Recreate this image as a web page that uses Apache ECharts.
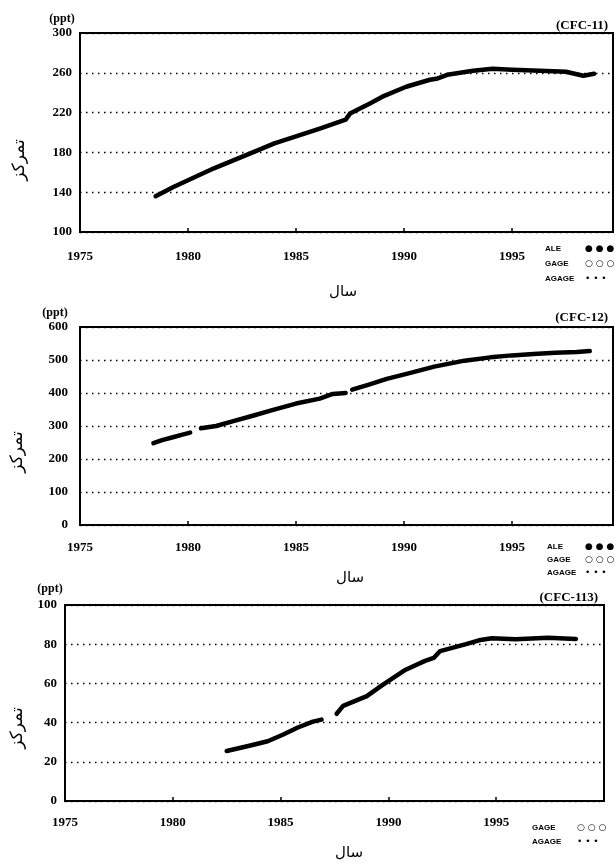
<!DOCTYPE html>
<html>
<head>
<meta charset="utf-8">
<script src="https://cdn.jsdelivr.net/npm/echarts@6/dist/echarts.min.js"></script>
<style>
html,body{margin:0;padding:0;background:#fff;}
#chart{width:615px;height:864px;}
</style>
</head>
<body>
<div id="chart"></div>
<script>
// ---------- data ----------
const xTickLabels = ['1975', '1980', '1985', '1990', '1995'];
const panelTitles = ['(CFC-11)', '(CFC-12)', '(CFC-113)'];
const unitLabel = '(ppt)';
const yAxisTitle = 'تمرکز';
const xAxisTitle = 'سال';
const legendNames12 = ['ALE', 'GAGE', 'AGAGE'];
const legendSymbols12 = ['● ● ●', '○ ○ ○', '• • •'];
const legendNames3 = ['GAGE', 'AGAGE'];
const legendSymbols3 = ['○ ○ ○', '• • •'];

// CFC-11 (ppt)
const cfc11Years  = [1978.5, 1979.3, 1980.0, 1981.2, 1982.1, 1983.0, 1984.0, 1985.0, 1986.1, 1987.3, 1987.5, 1988.4, 1989.0, 1990.1, 1991.2, 1991.5, 1992.0, 1993.2, 1994.1, 1995.0, 1996.3, 1997.5, 1998.3, 1998.8];
const cfc11Values = [136,    145,    152,    164,    172,    180,    189,    196,    204,    213,    219,    229,    236,    246,    253,    254,    258,    262,    264,    263,    262,    261,    257,    259];

// CFC-12 (ppt)  (null = gap in record)
const cfc12Years  = [1978.4, 1978.8, 1979.3, 1979.7, 1980.1, 1980.35, 1980.6, 1981.3, 1982.1, 1983.0, 1983.9, 1985.0, 1986.1, 1986.7, 1987.3, 1987.45, 1987.6, 1988.3, 1989.2, 1990.3, 1991.4, 1992.8, 1994.0, 1995.0, 1996.0, 1997.0, 1998.0, 1998.6];
const cfc12Values = [248,    257,    266,    273,    280,    null,    293,    300,    315,    331,    348,    368,    383,    397,    400,    null,    410,    424,    443,    461,    480,    498,    508,    514,    518,    522,    524,    527];

// CFC-113 (ppt)
const cfc113Years  = [1982.5, 1983.0, 1983.6, 1984.4, 1985.1, 1985.8, 1986.5, 1986.9, 1987.2, 1987.6, 1987.9, 1989.0, 1989.7, 1990.8, 1991.7, 1992.1, 1992.4, 1993.6, 1994.2, 1994.8, 1995.9, 1997.4, 1998.7];
const cfc113Values = [25.5,   26.8,   28.3,   30.5,   33.8,   37.5,   40.5,   41.5,   null,   44.5,   48.5,   53.5,   59.0,   67.0,   71.5,   73.0,   76.5,   80.0,   82.0,   83.0,   82.5,   83.3,   82.7];

// y-axis ranges
const yRanges = [
  {min: 100, max: 300, interval: 40},
  {min: 0,   max: 600, interval: 100},
  {min: 0,   max: 100, interval: 20}
];

// ---------- layout / style ----------
const grids = [
  {left: 80, top: 33,  width: 533, height: 199},
  {left: 80, top: 327, width: 533, height: 198},
  {left: 65, top: 605, width: 539, height: 196}
];
const xMax = [1975 + 533 / 21.6, 1975 + 533 / 21.6, 2000];
const labelMarginX = [18, 16, 15];
const labelMarginY = [8, 12, 8];
const numFont = 'Liberation Serif';

function pairs(xs, ys) { return xs.map((x, i) => [x, ys[i]]); }
const seriesData = [pairs(cfc11Years, cfc11Values), pairs(cfc12Years, cfc12Values), pairs(cfc113Years, cfc113Values)];

const chart = echarts.init(document.getElementById('chart'), null, {renderer: 'canvas'});

const option = {
  animation: false,
  backgroundColor: '#fff',
  grid: grids.map(g => Object.assign({show: true, borderColor: '#000', borderWidth: 2, containLabel: false}, g)),
  xAxis: grids.map((g, i) => ({
    type: 'value', gridIndex: i, min: 1975, max: xMax[i], interval: 5,
    axisLine: {show: true, onZero: false, lineStyle: {color: '#000', width: 2}},
    axisTick: {show: true, inside: true, length: 4, lineStyle: {color: '#000', width: 1.5}},
    splitLine: {show: false},
    axisLabel: {
      margin: labelMarginX[i], color: '#000', fontFamily: numFont, fontWeight: 'bold', fontSize: 13,
      showMaxLabel: false,
      formatter: v => { const k = Math.round((v - 1975) / 5); return (Math.abs(v - (1975 + 5 * k)) < 1e-6 && k >= 0 && k < xTickLabels.length) ? xTickLabels[k] : ''; }
    }
  })),
  yAxis: grids.map((g, i) => ({
    type: 'value', gridIndex: i, min: yRanges[i].min, max: yRanges[i].max, interval: yRanges[i].interval,
    axisLine: {show: true, onZero: false, lineStyle: {color: '#000', width: 2}},
    axisTick: {show: false},
    splitLine: {show: true, lineStyle: {color: '#000', width: 1.3, type: [1.5, 4.5]}},
    axisLabel: {margin: labelMarginY[i], color: '#000', fontFamily: numFont, fontWeight: 'bold', fontSize: 13}
  })),
  series: seriesData.map((d, i) => ({
    type: 'line', xAxisIndex: i, yAxisIndex: i, data: d,
    showSymbol: false, connectNulls: false, smooth: false,
    lineStyle: {color: '#000', width: 4.5, cap: 'round', join: 'round'}
  })),
  graphic: []
};

const G = option.graphic;
function txt(x, y, s, font, align, extra) {
  G.push(Object.assign({type: 'text', x: x, y: y, style: {text: s, font: font, fill: '#000', textAlign: align || 'center', textVerticalAlign: 'middle'}}, extra || {}));
}
// panel titles and units
const titlePos = [[608, 26], [608, 318], [598, 598]];
const unitPos = [[62, 19], [55, 313], [50, 589]];
panelTitles.forEach((t, i) => txt(titlePos[i][0], titlePos[i][1], t, 'bold 13px "Liberation Serif"', 'right'));
unitPos.forEach(p => txt(p[0], p[1], unitLabel, 'bold 12px "Liberation Serif"', 'center'));
// axis titles
const yTitlePos = [[20, 160], [18, 452], [18, 728]];
yTitlePos.forEach(p => txt(p[0], p[1], yAxisTitle, '17px "DejaVu Sans"', 'center', {rotation: Math.PI / 2}));
const xTitlePos = [[343, 292], [350, 578], [349, 853]];
xTitlePos.forEach(p => txt(p[0], p[1], xAxisTitle, '15px "DejaVu Sans"', 'center'));
// legend-like keys
const leg12 = [{x: 545, sx: 585, ys: [249, 264, 279]}, {x: 547, sx: 585, ys: [547, 560, 573]}];
leg12.forEach(L => legendNames12.forEach((n, k) => {
  txt(L.x, L.ys[k], n, 'bold 8px "Liberation Sans"', 'left');
  txt(L.sx, L.ys[k], legendSymbols12[k], '9px "DejaVu Sans"', 'left');
}));
const leg3 = {x: 532, sx: 577, ys: [828, 842]};
legendNames3.forEach((n, k) => {
  txt(leg3.x, leg3.ys[k], n, 'bold 8px "Liberation Sans"', 'left');
  txt(leg3.sx, leg3.ys[k], legendSymbols3[k], '9px "DejaVu Sans"', 'left');
});

chart.setOption(option);
</script>
</body>
</html>
